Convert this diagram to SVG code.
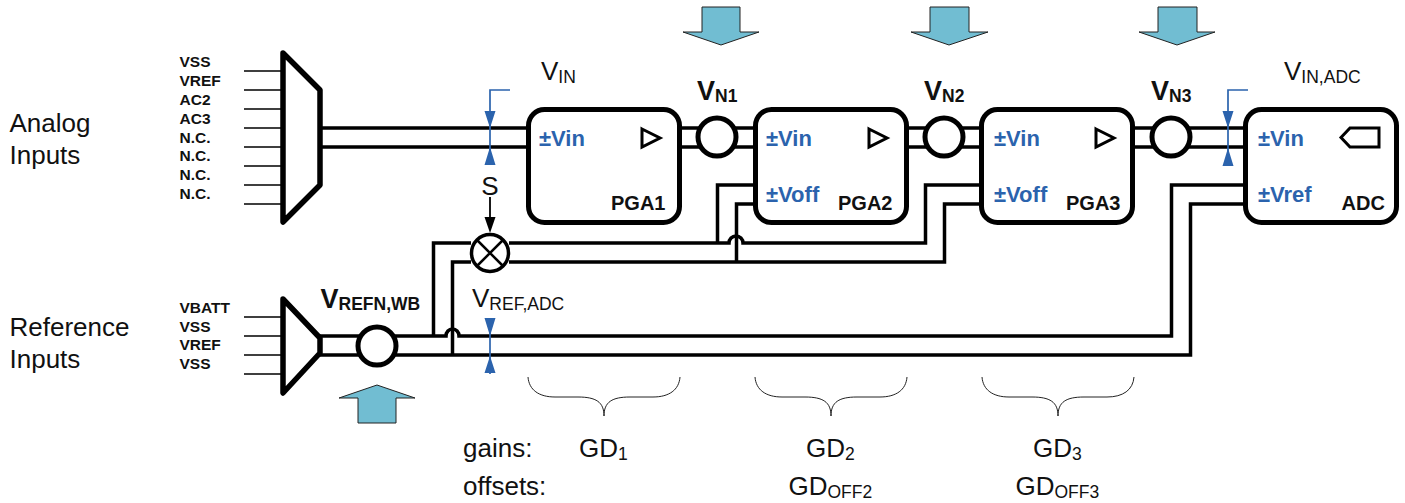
<svg xmlns="http://www.w3.org/2000/svg" width="1405" height="503" viewBox="0 0 1405 503">
<style>
text{font-family:"Liberation Sans",Arial,sans-serif;fill:#111}
.lab{font-size:26px}
.sub{font-size:17.500px}
.pin{font-size:15.500px;font-weight:bold}
.vb{font-size:27px;font-weight:bold}
.vbs{font-size:17.500px;font-weight:bold}
.port{font-size:22px;font-weight:bold;fill:#2b63ad}
.name{font-size:20px;font-weight:bold}
.box{fill:#fff;stroke:#000;stroke-width:5}
.mux{fill:#fff;stroke:#000;stroke-width:5.500;stroke-linejoin:round}
.w{fill:none;stroke:#000;stroke-width:3.500}
.in{fill:none;stroke:#000;stroke-width:1.700}
.bl{fill:none;stroke:#2b63ad;stroke-width:1.700}
.ah{fill:#2b63ad}
.ring{fill:#fff;stroke:#000;stroke-width:5}
.amp{fill:#fff;stroke:#000;stroke-width:3}
.arrow{fill:#71bdd2;stroke:#222;stroke-width:1}
.brace{fill:none;stroke:#222;stroke-width:1}
</style>
<g id="connectors">
<path class="in" d="M244 71H281M244 90H281M244 109H281M244 128H281M244 147H281M244 166H281M244 185H281M244 204H281"/>
<path class="in" d="M244 317H281M244 336H281M244 355H281M244 374H281"/>
<path class="w" d="M320 128H528M320 147H528M680 128H755M680 147H755M907 128H981M907 147H981M1134 128H1245M1134 147H1245"/>
<path class="w" d="M320 336H446A6.500 7 0 0 1 459 336H1171.500V185H1245"/>
<path class="w" d="M320 355H1190.500V204H1245"/>
<path class="w" d="M433.500 336V243H471"/>
<path class="w" d="M452.500 355V262H471"/>
<path class="w" d="M509 243H729A7 7 0 0 1 743 243H925.500V185H981"/>
<path class="w" d="M509 262H944.500V204H981"/>
<path class="w" d="M717.500 243V185H755"/>
<path class="w" d="M736.500 262V204H755"/>
<path fill="none" stroke="#000" stroke-width="1.800" d="M490 197V220"/>
<path fill="#000" d="M484.500 217H495.500L490 233Z"/>
</g>
<g id="mux-analog"><polygon class="mux" points="283,53 320,90 320,185 283,222"/>
<text class="pin" x="179.500" y="67">VSS</text><text class="pin" x="179.500" y="86">VREF</text><text class="pin" x="179.500" y="105">AC2</text><text class="pin" x="179.500" y="124">AC3</text><text class="pin" x="179.500" y="143">N.C.</text><text class="pin" x="179.500" y="161">N.C.</text><text class="pin" x="179.500" y="180">N.C.</text><text class="pin" x="179.500" y="199">N.C.</text></g>
<g id="mux-reference"><polygon class="mux" points="283,299 320,338 320,353 283,393"/>
<text class="pin" x="179.500" y="313">VBATT</text><text class="pin" x="179.500" y="332">VSS</text><text class="pin" x="179.500" y="350">VREF</text><text class="pin" x="179.500" y="369">VSS</text></g>
<g id="label-analog"><text class="lab" x="9.500" y="132">Analog</text><text class="lab" x="9.500" y="164">Inputs</text></g>
<g id="label-reference"><text class="lab" x="9.500" y="336">Reference</text><text class="lab" x="9.500" y="368">Inputs</text></g>
<g id="pga1"><rect class="box" x="528.500" y="109.500" width="151" height="113" rx="16"/><text class="port" x="539" y="146">±Vin</text><polygon class="amp" points="642,129 660,138 642,147"/><text class="name" x="611" y="210">PGA1</text></g>
<g id="pga2"><rect class="box" x="755.500" y="109.500" width="151" height="113" rx="16"/><text class="port" x="766" y="146">±Vin</text><text class="port" x="766" y="202">±Voff</text><polygon class="amp" points="869,129 887,138 869,147"/><text class="name" x="838" y="210">PGA2</text></g>
<g id="pga3"><rect class="box" x="981.500" y="109.500" width="151" height="113" rx="16"/><text class="port" x="994" y="146">±Vin</text><text class="port" x="994" y="202">±Voff</text><polygon class="amp" points="1096,129 1114,138 1096,147"/><text class="name" x="1066" y="210">PGA3</text></g>
<g id="adc"><rect class="box" x="1245.500" y="109.500" width="151" height="113" rx="16"/><text class="port" x="1258" y="146">±Vin</text><text class="port" x="1258" y="202">±Vref</text><polygon class="amp" points="1379,128 1350,128 1341,137.500 1350,147 1379,147"/><text class="name" x="1341.500" y="210">ADC</text></g>
<g id="sum-n1"><circle class="ring" cx="717" cy="137" r="19"/></g>
<g id="sum-n2"><circle class="ring" cx="944" cy="137" r="19"/></g>
<g id="sum-n3"><circle class="ring" cx="1171" cy="137" r="19"/></g>
<g id="sum-ref"><circle class="ring" cx="377" cy="346" r="19"/></g>
<g id="mixer"><circle cx="490" cy="253" r="18.500" fill="#fff" stroke="#000" stroke-width="3.500"/><path stroke="#000" stroke-width="2.500" d="M477 240L503 266M503 240L477 266"/></g>
<g id="probe-vin"><path class="bl" d="M510 90H490V165"/><path class="ah" d="M484.500 111H495.500L490 128ZM490 147L495.500 165H484.500Z"/><text class="lab" x="541" y="80">V<tspan class="sub" dy="3">IN</tspan></text></g>
<g id="probe-vinadc"><path class="bl" d="M1248 90H1228V166"/><path class="ah" d="M1222.500 111H1233.500L1228 128ZM1228 148L1233.500 166H1222.500Z"/><text class="lab" x="1284" y="80">V<tspan class="sub" dy="3">IN,ADC</tspan></text></g>
<g id="probe-vref"><path class="bl" d="M490 318V374"/><path class="ah" d="M484.500 318H495.500L490 336ZM490 356L495.500 373H484.500Z"/><text class="lab" x="472" y="307">V<tspan class="sub" dy="3">REF,ADC</tspan></text></g>
<g id="label-s"><text class="lab" x="490" y="195" text-anchor="middle">S</text></g>
<g id="labels-v">
<text class="vb" x="697" y="100">V<tspan class="vbs" dy="2">N1</tspan></text>
<text class="vb" x="924" y="100">V<tspan class="vbs" dy="2">N2</tspan></text>
<text class="vb" x="1151" y="100">V<tspan class="vbs" dy="2">N3</tspan></text>
<text class="vb" x="320.500" y="308">V<tspan class="vbs" dy="2">REFN,WB</tspan></text>
</g>
<g id="arrow-1"><polygon class="arrow" points="702,7 740,7 740,32 759,32 721,45 683,32 702,32"/></g>
<g id="arrow-2"><polygon class="arrow" points="930,7 969,7 969,32 988,32 949,45 911,32 930,32"/></g>
<g id="arrow-3"><polygon class="arrow" points="1158,7 1197,7 1197,32 1215,32 1177,45 1139,32 1158,32"/></g>
<g id="arrow-ref"><polygon class="arrow" points="358,423 396,423 396,398 415,398 377,385 339,398 358,398"/></g>
<g id="brace-1"><path class="brace" d="M528 377C529 390 539 397 555 397H578C596 397 604 402 604 416C604 402 612 397 630 397H653C669 397 679 390 680 377"/></g>
<g id="brace-2"><path class="brace" d="M755 377C756 390 766 397 782 397H805C823 397 831 402 831 416C831 402 839 397 857 397H880C896 397 906 390 907 377"/></g>
<g id="brace-3"><path class="brace" d="M982 377C983 390 993 397 1009 397H1032C1050 397 1058 402 1058 416C1058 402 1066 397 1084 397H1107C1123 397 1133 390 1134 377"/></g>
<g id="gains">
<text class="lab" x="463" y="457">gains:</text><text class="lab" x="463" y="495">offsets:</text>
<text class="lab" x="579" y="457">GD<tspan class="sub" dy="3">1</tspan></text>
<text class="lab" x="806" y="457">GD<tspan class="sub" dy="3">2</tspan></text>
<text class="lab" x="1033" y="457">GD<tspan class="sub" dy="3">3</tspan></text>
<text class="lab" x="788.500" y="495">GD<tspan class="sub" dy="3">OFF2</tspan></text>
<text class="lab" x="1015.500" y="495">GD<tspan class="sub" dy="3">OFF3</tspan></text>
</g>
</svg>
